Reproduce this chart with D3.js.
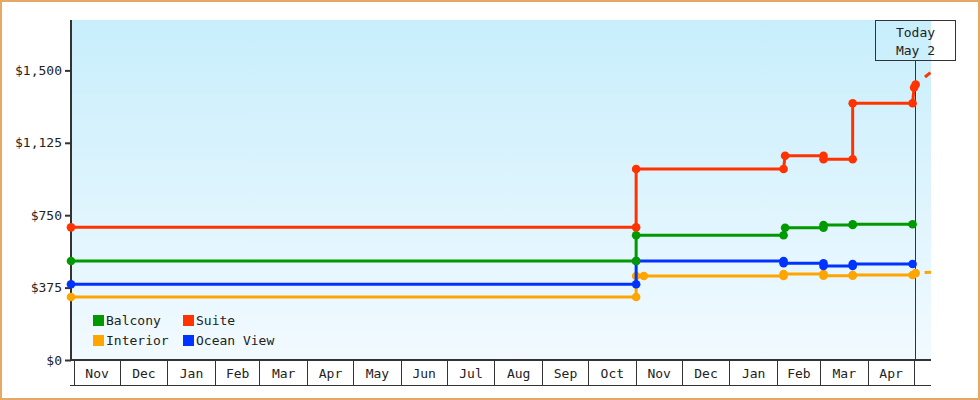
<!DOCTYPE html>
<html>
<head>
<meta charset="utf-8">
<script src="https://cdn.jsdelivr.net/npm/d3@7"></script>
<style>
  html, body { margin: 0; padding: 0; background: #fff; }
  svg { display: block; }
  text { font-family: "DejaVu Sans Mono", monospace; font-size: 13px; fill: #222; }
</style>
</head>
<body>
<svg id="chart" width="980" height="400"></svg>
<script>
// ---------- data ----------
const seriesNames = ["Interior", "Ocean View", "Balcony", "Suite"];
const legendOrder = ["Balcony", "Suite", "Interior", "Ocean View"];
const seriesColors = { "Balcony": "#009900", "Suite": "#ff3300", "Interior": "#ffa500", "Ocean View": "#0033ff" };

const suiteDates  = ["2023-10-30","2024-11-01","2024-11-01","2025-02-05","2025-02-06","2025-03-03","2025-03-03","2025-03-22","2025-03-22","2025-04-30","2025-05-01","2025-05-02"];
const suiteValues = [687, 687, 989, 989, 1058, 1058, 1040, 1040, 1330, 1330, 1411, 1427];

const balconyDates  = ["2023-10-30","2024-11-01","2024-11-01","2025-02-05","2025-02-06","2025-03-03","2025-03-03","2025-03-22","2025-03-22","2025-04-30"];
const balconyValues = [513, 513, 646, 646, 685, 685, 699, 699, 703, 703];

const oceanDates  = ["2023-10-30","2024-11-01","2024-11-01","2025-02-05","2025-02-05","2025-03-03","2025-03-03","2025-03-22","2025-03-22","2025-04-30"];
const oceanValues = [392, 392, 513, 513, 501, 501, 487, 487, 497, 497];

const interiorDates  = ["2023-10-30","2024-11-01","2024-11-01","2024-11-06","2025-02-05","2025-02-05","2025-03-03","2025-03-03","2025-03-22","2025-03-22","2025-04-30","2025-05-02"];
const interiorValues = [326, 326, 435, 435, 435, 445, 445, 437, 437, 440, 440, 450];

// forecast (dashed) beyond today
const forecastDates = ["2025-05-02", "2025-05-12"];
const suiteForecast = [1427, 1491];
const interiorForecast = [450, 455];

const yTicks = [0, 375, 750, 1125, 1500];
const todayDate = "2025-05-02";
const todayLabel = ["Today", "May 2"];
const xDomain = ["2023-10-30", "2025-05-12"];
const yMax = 1761;

// ---------- setup ----------
const parse = d3.utcParse("%Y-%m-%d");
const zip = (ds, vs) => ds.map((d, i) => ({ date: parse(d), value: vs[i] }));
const seriesData = {
  "Suite": zip(suiteDates, suiteValues),
  "Balcony": zip(balconyDates, balconyValues),
  "Ocean View": zip(oceanDates, oceanValues),
  "Interior": zip(interiorDates, interiorValues)
};
const forecastData = {
  "Suite": zip(forecastDates, suiteForecast),
  "Interior": zip(forecastDates, interiorForecast)
};

const W = 980, H = 400;
const L = 71, R = 931, T = 20, B = 360;

const svg = d3.select("#chart");
const x = d3.scaleUtc().domain(xDomain.map(parse)).range([L, R]);
const y = d3.scaleLinear().domain([0, yMax]).range([B, T]);

// background gradient
const defs = svg.append("defs");
const grad = defs.append("linearGradient").attr("id", "bg").attr("x1", 0).attr("y1", 0).attr("x2", 0).attr("y2", 1);
grad.append("stop").attr("offset", "0%").attr("stop-color", "#c8eefc");
grad.append("stop").attr("offset", "100%").attr("stop-color", "#f2faff");
defs.append("clipPath").attr("id", "plotclip").append("rect")
  .attr("x", L).attr("y", T).attr("width", R - L).attr("height", B - T);

svg.append("rect").attr("x", L).attr("y", T).attr("width", R - L).attr("height", B - T).attr("fill", "url(#bg)");

// page border
svg.append("rect").attr("x", 1).attr("y", 1).attr("width", W - 2).attr("height", H - 2)
  .attr("fill", "none").attr("stroke", "#e3a965").attr("stroke-width", 2);

// ---------- x axis (month boxes) ----------
const months = d3.utcMonth.range(d3.utcMonth.ceil(x.domain()[0]), x.domain()[1]);
const xa = svg.append("g");
xa.append("line").attr("x1", L - 1).attr("x2", R).attr("y1", B).attr("y2", B).attr("stroke", "#333").attr("stroke-width", 2);
xa.append("line").attr("x1", L - 1).attr("x2", R).attr("y1", B + 25.5).attr("y2", B + 25.5).attr("stroke", "#333").attr("stroke-width", 1);
xa.selectAll("line.sep").data(months).join("line").attr("class", "sep")
  .attr("x1", d => Math.floor(x(d)) + 0.5).attr("x2", d => Math.floor(x(d)) + 0.5)
  .attr("y1", B).attr("y2", B + 25).attr("stroke", "#333").attr("stroke-width", 1);
const fmtMonth = d3.utcFormat("%b");
xa.selectAll("text").data(months.slice(0, -1)).join("text")
  .attr("x", (d, i) => (x(d) + x(months[i + 1])) / 2)
  .attr("y", B + 17.5)
  .attr("text-anchor", "middle")
  .text(d => fmtMonth(d));

// ---------- y axis ----------
const yAxis = d3.axisLeft(y).tickValues(yTicks).tickSize(6).tickSizeOuter(0).tickPadding(3).tickFormat(d3.format("$,"));
const ya = svg.append("g").attr("transform", `translate(${L},0)`).call(yAxis);
ya.select(".domain").attr("stroke", "#333").attr("stroke-width", 2).attr("d", `M0,${T}V${B + 1}`);
ya.selectAll(".tick line").attr("stroke", "#333").attr("stroke-width", 2);
ya.selectAll(".tick text").attr("fill", "#222").style("font-family", "DejaVu Sans Mono, monospace").style("font-size", "13px");

// ---------- today marker ----------
const tx = Math.floor(x(parse(todayDate))) + 0.5;
svg.append("line").attr("x1", tx).attr("x2", tx).attr("y1", T + 40.5).attr("y2", B)
  .attr("stroke", "#333").attr("stroke-width", 1);
svg.append("rect").attr("x", tx - 40).attr("y", T + 0.5).attr("width", 80).attr("height", 40)
  .attr("fill", "none").attr("stroke", "#333").attr("stroke-width", 1);
svg.selectAll("text.today").data(todayLabel).join("text").attr("class", "today")
  .attr("x", tx).attr("y", (d, i) => T + 16.5 + i * 18.5)
  .attr("text-anchor", "middle").text(d => d);

// ---------- series ----------
const line = d3.line().x(d => x(d.date)).y(d => y(d.value));
const dashStyle = { "Suite": "0 12 7 30", "Interior": "0 9 7 30" };

seriesNames.forEach(name => {
  const g = svg.append("g");
  const c = seriesColors[name];
  if (forecastData[name]) {
    g.append("path").datum(forecastData[name]).attr("d", line)
      .attr("clip-path", "url(#plotclip)")
      .attr("fill", "none").attr("stroke", c).attr("stroke-width", 3)
      .attr("stroke-dasharray", dashStyle[name]);
  }
  g.append("path").datum(seriesData[name]).attr("d", line)
    .attr("fill", "none").attr("stroke", c).attr("stroke-width", 3).attr("stroke-linejoin", "round");
  g.selectAll("circle").data(seriesData[name]).join("circle")
    .attr("cx", d => x(d.date)).attr("cy", d => y(d.value)).attr("r", 4.3).attr("fill", c);
});

// ---------- legend ----------
const lg = svg.append("g");
legendOrder.forEach((name, i) => {
  const col = i % 2, row = Math.floor(i / 2);
  const lx = 93 + col * 90, ly = 315 + row * 20;
  lg.append("rect").attr("x", lx).attr("y", ly).attr("width", 11).attr("height", 11).attr("fill", seriesColors[name]);
  lg.append("text").attr("x", lx + 13).attr("y", ly + 10).text(name);
});
</script>
</body>
</html>
